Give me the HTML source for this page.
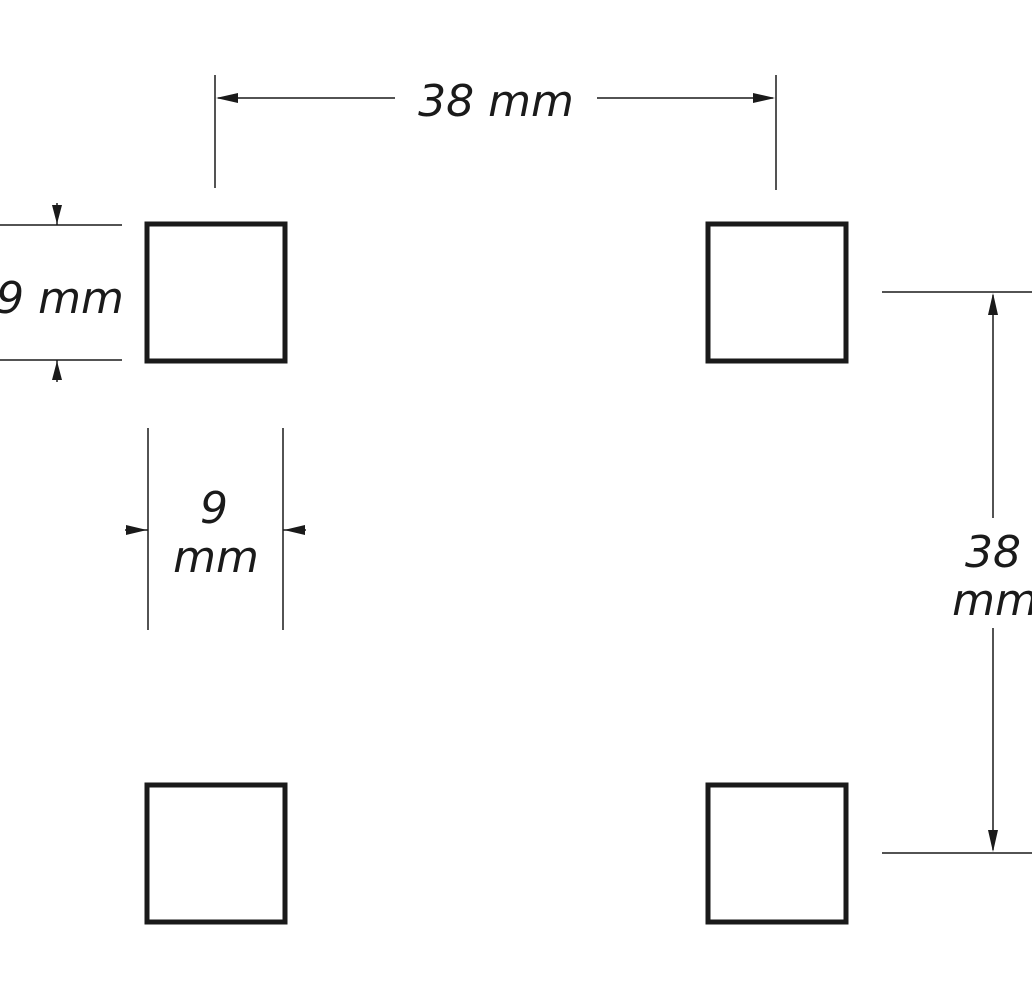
<!DOCTYPE html>
<html><head><meta charset="utf-8"><style>
html,body{margin:0;padding:0;background:#fff;width:1032px;height:1000px;overflow:hidden}
text{font-family:"DejaVu Sans","Liberation Sans",sans-serif;font-style:italic;fill:#1a1a1a}
</style></head><body>
<svg width="1032" height="1000" viewBox="0 0 1032 1000" xmlns="http://www.w3.org/2000/svg">
<g fill="none" stroke="#1a1a1a" stroke-width="5">
<rect x="147" y="224" width="138" height="137"/>
<rect x="708" y="224" width="138" height="137"/>
<rect x="147" y="785" width="138" height="137"/>
<rect x="708" y="785" width="138" height="137"/>
</g>
<g stroke="#1a1a1a" stroke-width="1.5" fill="none">
<line x1="215" y1="75" x2="215" y2="188"/>
<line x1="776" y1="75" x2="776" y2="190"/>
<line x1="218" y1="98" x2="395" y2="98"/>
<line x1="597" y1="98" x2="773" y2="98"/>
<line x1="0" y1="225" x2="122" y2="225"/>
<line x1="0" y1="360" x2="122" y2="360"/>
<line x1="148" y1="428" x2="148" y2="630"/>
<line x1="283" y1="428" x2="283" y2="630"/>
<line x1="125" y1="530" x2="148" y2="530"/>
<line x1="283" y1="530" x2="306" y2="530"/>
<line x1="57" y1="203" x2="57" y2="225"/>
<line x1="57" y1="360" x2="57" y2="382"/>
<line x1="882" y1="292" x2="1032" y2="292"/>
<line x1="882" y1="853" x2="1032" y2="853"/>
<line x1="993" y1="295" x2="993" y2="518"/>
<line x1="993" y1="628" x2="993" y2="850"/>
</g>
<g fill="#1a1a1a">
<polygon points="216,98 238,93 238,103"/>
<polygon points="775,98 753,93 753,103"/>
<polygon points="57,224 52,205 62,205"/>
<polygon points="57,361 52,380 62,380"/>
<polygon points="147,530 126,525 126,535"/>
<polygon points="284,530 305,525 305,535"/>
<polygon points="993,293 988,315 998,315"/>
<polygon points="993,852 988,830 998,830"/>
</g>
<text x="496" y="116" font-size="44" text-anchor="middle">38 mm</text>
<text x="60" y="313" font-size="44" text-anchor="middle">9 mm</text>
<text x="214" y="523" font-size="44" text-anchor="middle">9</text>
<text x="216" y="572" font-size="44" text-anchor="middle">mm</text>
<text x="993" y="567" font-size="44" text-anchor="middle">38</text>
<text x="995" y="615" font-size="44" text-anchor="middle">mm</text>
</svg>
</body></html>
